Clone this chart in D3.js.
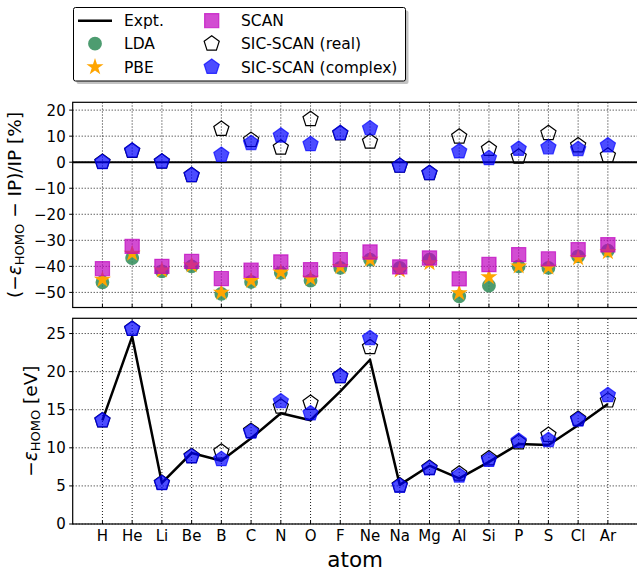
<!DOCTYPE html>
<html>
<head>
<meta charset="utf-8">
<script src="https://cdn.jsdelivr.net/npm/d3@7"></script>
<style>
  body { margin: 0; background: #fff; }
  svg { font-family: "DejaVu Sans", sans-serif; }
</style>
</head>
<body>
<svg id="chart" width="637" height="571"></svg>
<script>
// atoms along the x axis
const atoms = ["H","He","Li","Be","B","C","N","O","F","Ne","Na","Mg","Al","Si","P","S","Cl","Ar"];

// top panel: relative error in %
const ldaPct  = [-46.1,-36.8,-41.9,-40.0,-50.6,-46.0,-42.5,-45.5,-40.6,-37.4,-40.6,-37.4,-51.5,-47.4,-40.0,-40.6,-36.2,-34.0];
const pbePct  = [-45.1,-35.1,-41.5,-39.6,-50.0,-45.5,-42.3,-44.7,-40.2,-37.4,-41.5,-38.7,-50.2,-44.1,-40.0,-40.4,-36.8,-34.5];
const scanPct = [-40.9,-32.3,-40.0,-38.1,-44.7,-41.5,-38.3,-41.3,-37.4,-34.5,-40.2,-36.8,-44.8,-39.3,-35.5,-37.1,-33.6,-31.7];
const sicRealPct = [0.1,4.3,0.2,-5.0,12.8,8.5,5.6,16.5,11.0,7.9,-1.4,-4.2,9.8,5.1,2.1,11.1,6.4,2.5];
const sicCplxPct = [0.0,4.4,0.2,-5.0,2.8,7.3,10.2,6.9,11.1,13.0,-1.4,-4.2,4.1,1.5,5.1,5.7,5.0,6.4];

// bottom panel: -eps_HOMO in eV
const expt = [13.6,24.6,5.39,9.32,8.3,11.26,14.53,13.62,17.42,21.56,5.14,7.65,5.99,8.15,10.49,10.36,12.97,15.76];
const sicRealEv = [13.6,25.6,5.4,8.9,9.5,12.2,15.4,15.9,19.4,23.2,5.05,7.35,6.6,8.6,10.7,11.7,13.8,16.2];
const sicCplxEv = [13.6,25.6,5.35,8.85,8.5,12.1,16.1,14.5,19.4,24.4,5.0,7.3,6.35,8.4,10.9,11.0,13.7,16.9];

const topTicks = [20,10,0,-10,-20,-30,-40,-50];
const botTicks = [0,5,10,15,20,25];

const svg = d3.select("#chart");

// scales
const x = d3.scaleLinear().domain([-1, 18]).range([72.7, 637.6]);
const yTop = d3.scaleLinear().domain([-55.8, 23]).range([307.5, 102.3]);
const yBot = d3.scaleLinear().domain([0, 27]).range([524, 318.3]);

// pentagon symbol (matplotlib 'p')
const pentagon = {
  draw(ctx, size) {
    const r = Math.sqrt(size / 2.3776);
    for (let i = 0; i < 5; i++) {
      const a = -Math.PI / 2 + i * 2 * Math.PI / 5;
      const px = r * Math.cos(a), py = r * Math.sin(a);
      if (i === 0) ctx.moveTo(px, py); else ctx.lineTo(px, py);
    }
    ctx.closePath();
  }
};

const styles = {
  lda:  {type: d3.symbolCircle, size: 150, fill: "#2e8b57", op: 0.85, stroke: "none"},
  pbe:  {type: d3.symbolStar, size: 90, fill: "#ffa500", op: 1, stroke: "none"},
  scan: {type: d3.symbolSquare, size: 200, fill: "#bf00bf", op: 0.7, stroke: "#bf00bf"},
  real: {type: pentagon, size: 150, fill: "none", op: 1, stroke: "#000"},
  cplx: {type: pentagon, size: 150, fill: "#0000ff", op: 0.7, stroke: "#0000ff"}
};

function drawMarkers(g, vals, yScale, st) {
  g.selectAll(null)
    .data(vals)
    .enter().append("path")
    .attr("d", d3.symbol().type(st.type).size(st.size))
    .attr("transform", (d, i) => `translate(${x(i)},${yScale(d)})`)
    .attr("fill", st.fill)
    .attr("fill-opacity", st.op)
    .attr("stroke", st.stroke)
    .attr("stroke-opacity", st.op)
    .attr("stroke-width", 1.2);
}

function drawGrid(yScale, ticks) {
  const [yb, yt] = yScale.range();
  const g = svg.append("g");
  g.selectAll(null).data(atoms).enter().append("line")
    .attr("x1", (d, i) => x(i)).attr("x2", (d, i) => x(i))
    .attr("y1", yb).attr("y2", yt)
    .attr("stroke", "#000").attr("stroke-width", 0.9)
    .attr("stroke-dasharray", "1,2");
  g.selectAll(null).data(ticks).enter().append("line")
    .attr("x1", x.range()[0]).attr("x2", x.range()[1])
    .attr("y1", d => yScale(d)).attr("y2", d => yScale(d))
    .attr("stroke", "#000").attr("stroke-width", 0.9)
    .attr("stroke-dasharray", "1,2");
}

function drawFrame(yScale, ticks, showXLabels) {
  const [yb, yt] = yScale.range();
  const g = svg.append("g");
  g.append("rect")
    .attr("x", x.range()[0]).attr("y", yt)
    .attr("width", x.range()[1] - x.range()[0] + 2).attr("height", yb - yt)
    .attr("fill", "none").attr("stroke", "#000").attr("stroke-width", 1.2);
  // y ticks (outward)
  g.selectAll(null).data(ticks).enter().append("line")
    .attr("x1", x.range()[0] - 3.5).attr("x2", x.range()[0])
    .attr("y1", d => yScale(d)).attr("y2", d => yScale(d))
    .attr("stroke", "#000").attr("stroke-width", 1);
  g.selectAll(null).data(ticks).enter().append("text")
    .attr("x", x.range()[0] - 7).attr("y", d => yScale(d))
    .attr("dy", "0.36em").attr("text-anchor", "end")
    .style("font-size", "15px")
    .text(d => d < 0 ? "\u2212" + Math.abs(d) : d);
  // x ticks (inward)
  g.selectAll(null).data(atoms).enter().append("line")
    .attr("x1", (d, i) => x(i)).attr("x2", (d, i) => x(i))
    .attr("y1", yb).attr("y2", yb - 3.5)
    .attr("stroke", "#000").attr("stroke-width", 1);
  if (showXLabels) {
    g.selectAll(null).data(atoms).enter().append("text")
      .attr("x", (d, i) => x(i)).attr("y", yb + 17)
      .attr("text-anchor", "middle")
      .style("font-size", "15px")
      .text(d => d);
  }
}

// ---- top panel ----
drawGrid(yTop, topTicks);
svg.append("line")
  .attr("x1", x.range()[0]).attr("x2", x.range()[1])
  .attr("y1", yTop(0)).attr("y2", yTop(0))
  .attr("stroke", "#000").attr("stroke-width", 2);
const gTop = svg.append("g");
drawMarkers(gTop, ldaPct, yTop, styles.lda);
drawMarkers(gTop, pbePct, yTop, styles.pbe);
drawMarkers(gTop, scanPct, yTop, styles.scan);
drawMarkers(gTop, sicRealPct, yTop, styles.real);
drawMarkers(gTop, sicCplxPct, yTop, styles.cplx);
drawFrame(yTop, topTicks, false);

// ---- bottom panel ----
drawGrid(yBot, botTicks);
const gBot = svg.append("g");
gBot.append("path")
  .datum(expt)
  .attr("d", d3.line().x((d, i) => x(i)).y(d => yBot(d)))
  .attr("fill", "none").attr("stroke", "#000").attr("stroke-width", 2.5)
  .attr("stroke-linejoin", "round");
drawMarkers(gBot, sicRealEv, yBot, styles.real);
drawMarkers(gBot, sicCplxEv, yBot, styles.cplx);
drawFrame(yBot, botTicks, true);

// axis labels
function homoLabel(sel, pre, post, sub) {
  sel.append("tspan").text(pre);
  sel.append("tspan").style("font-style", "italic").text("\u03b5");
  sel.append("tspan").attr("baseline-shift", "-25%").style("font-size", sub + "px").text("HOMO");
  sel.append("tspan").text(post);
}
const yl1 = svg.append("text")
  .attr("transform", `translate(21,${(yTop.range()[0] + yTop.range()[1]) / 2}) rotate(-90)`)
  .attr("text-anchor", "middle").style("font-size", "18.5px");
homoLabel(yl1, "(\u2212", " \u2212 IP)/IP [%]", 13);
const yl2 = svg.append("text")
  .attr("transform", `translate(37,${(yBot.range()[0] + yBot.range()[1]) / 2}) rotate(-90)`)
  .attr("text-anchor", "middle").style("font-size", "18.5px");
homoLabel(yl2, "\u2212", " [eV]", 13);

svg.append("text")
  .attr("x", (x.range()[0] + x.range()[1]) / 2).attr("y", 567)
  .attr("text-anchor", "middle").style("font-size", "21.5px")
  .text("atom");

// legend
const leg = svg.append("g");
leg.append("rect").attr("x", 76.5).attr("y", 10.5).attr("width", 332).attr("height", 73.5)
  .attr("rx", 2).attr("fill", "#888").attr("opacity", 0.5);
leg.append("rect").attr("x", 73.5).attr("y", 7.5).attr("width", 332).attr("height", 73.5)
  .attr("rx", 2).attr("fill", "#fff").attr("stroke", "#000").attr("stroke-width", 1);

const legendItems = [
  {label: "Expt.", col: 0, row: 0, line: true},
  {label: "LDA", col: 0, row: 1, st: styles.lda},
  {label: "PBE", col: 0, row: 2, st: styles.pbe},
  {label: "SCAN", col: 1, row: 0, st: styles.scan},
  {label: "SIC-SCAN (real)", col: 1, row: 1, st: styles.real},
  {label: "SIC-SCAN (complex)", col: 1, row: 2, st: styles.cplx}
];
const colMarker = [95, 211.7], colText = [124, 241], rowY = [20.7, 43.7, 67];
legendItems.forEach(it => {
  const mx = colMarker[it.col], my = rowY[it.row];
  if (it.line) {
    leg.append("line").attr("x1", mx - 17).attr("x2", mx + 17)
      .attr("y1", my).attr("y2", my).attr("stroke", "#000").attr("stroke-width", 2.5);
  } else {
    const st = it.st;
    leg.append("path")
      .attr("d", d3.symbol().type(st.type).size(st.size))
      .attr("transform", `translate(${mx},${my})`)
      .attr("fill", st.fill).attr("fill-opacity", st.op)
      .attr("stroke", st.stroke).attr("stroke-opacity", st.op).attr("stroke-width", 1.2);
  }
  leg.append("text").attr("x", colText[it.col]).attr("y", my).attr("dy", "0.36em")
    .style("font-size", "15.5px").text(it.label);
});
</script>
</body>
</html>
